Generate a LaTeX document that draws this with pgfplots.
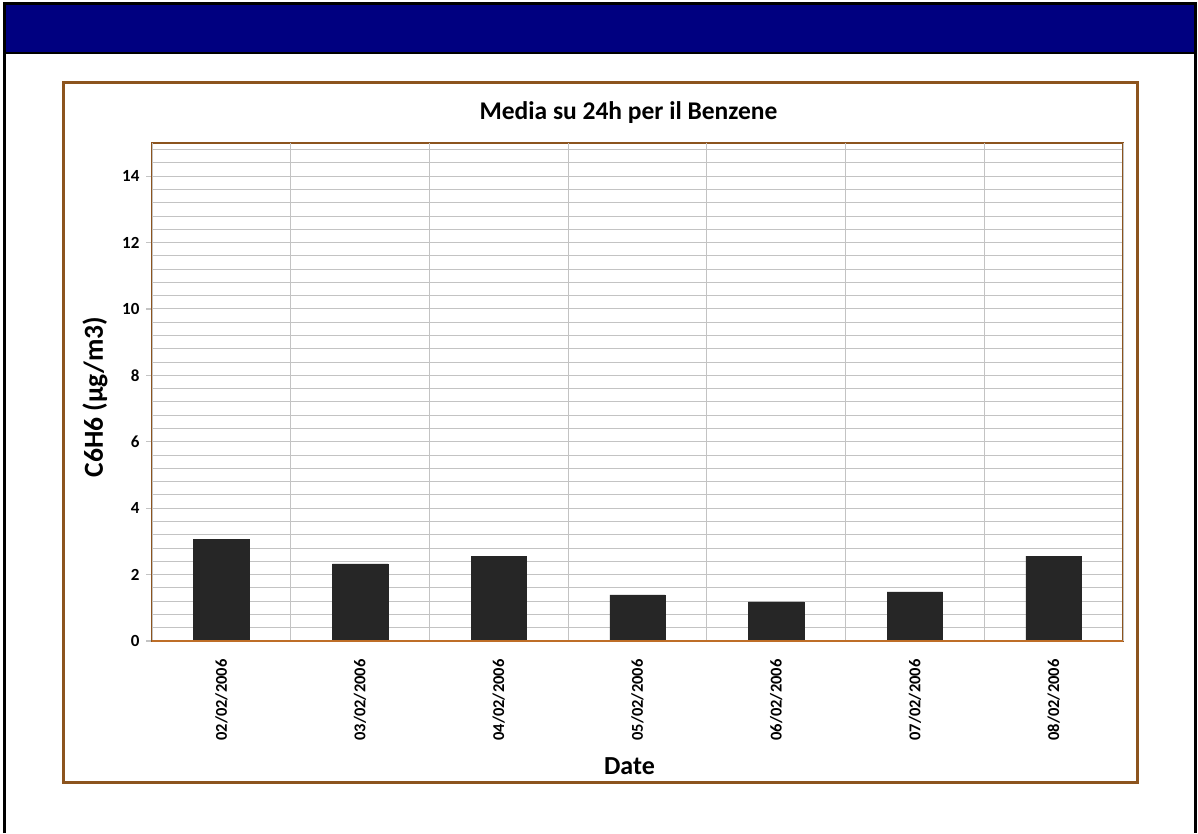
\documentclass[border=0pt]{standalone}
\usepackage{pgfplots}
\pgfplotsset{compat=1.18}
\usepackage{fontspec}
\setmainfont{Carlito}

\definecolor{headernavy}{RGB}{0,0,128}
\definecolor{framebrown}{RGB}{140,84,30}
\definecolor{axisorange}{RGB}{190,110,40}
\definecolor{gridgray}{RGB}{195,195,195}
\definecolor{barfill}{RGB}{38,38,38}

\begin{document}
\begin{tikzpicture}[x=1pt,y=1pt]
\useasboundingbox (0,0) rectangle (1198,833);
\fill[white] (0,0) rectangle (1198,833);
% header band and outer frame
\fill[headernavy] (5,781) rectangle (1195,828);
\draw[black, line width=2.5] (5,780) -- (1195,780);
\draw[black, line width=3] (4.5,0) -- (4.5,829) -- (1195.5,829) -- (1195.5,0);
% chart area frame
\draw[framebrown, line width=3] (63,51) rectangle (1137,750);

\begin{axis}[
  at={(152pt,192pt)}, anchor=south west,
  scale only axis, width=971pt, height=498pt,
  ybar, bar width=0.4,
  xmin=-0.5, xmax=6.5, ymin=0, ymax=15,
  xtick pos=bottom, ytick pos=left,
  xtick={0,...,6},
  xticklabels={02/02/2006,03/02/2006,04/02/2006,05/02/2006,06/02/2006,07/02/2006,08/02/2006},
  x tick label style={rotate=90, anchor=east, font=\bfseries\fontsize{16.5}{16.5}\selectfont, xshift=-9pt},
  ytick={0,2,...,14},
  minor ytick={0.4,0.8,1.2,1.6,2.4,2.8,3.2,3.6,4.4,4.8,5.2,5.6,6.4,6.8,7.2,7.6,8.4,8.8,9.2,9.6,10.4,10.8,11.2,11.6,12.4,12.8,13.2,13.6,14.4,14.8},
  y tick label style={font=\bfseries\fontsize{17}{17}\selectfont, xshift=-3pt},
  /pgf/number format/assume math mode=true,
  tick align=outside,
  major tick length=6pt, minor tick length=0pt,
  ymajorgrids, yminorgrids,
  major grid style={gridgray, line width=1pt},
  minor grid style={gridgray, line width=1pt},
  extra x ticks={-0.5,0.5,1.5,2.5,3.5,4.5,5.5,6.5},
  extra x tick labels={},
  extra x tick style={grid=major, major tick length=6pt, tick style={axisorange, line width=1pt}},
  x tick style={draw=none},
  y tick style={gridgray, line width=1.2pt},
  axis line style={framebrown, line width=2.5pt},
  title={Media su 24h per il Benzene},
  title style={font=\bfseries\fontsize{25.5}{25.5}\selectfont, at={(axis description cs:0.4907,1.050)}, anchor=center},
  xlabel={Date},
  xlabel style={font=\bfseries\fontsize{26}{26}\selectfont, at={(axis description cs:0.4917,-0.251)}, anchor=center},
  ylabel={C6H6 (µg/m3)},
  ylabel style={font=\bfseries\fontsize{27.5}{27.5}\selectfont, at={(axis description cs:-0.0587,0.49)}, anchor=center},
]
\addplot[fill=barfill, draw=barfill] coordinates {
  (0,3.06) (1,2.32) (2,2.54) (3,1.39) (4,1.18) (5,1.48) (6,2.56)
};
\draw[axisorange, line width=2.5pt] (axis cs:-0.5,0) -- (axis cs:6.5,0);
\end{axis}
\end{tikzpicture}
\end{document}
